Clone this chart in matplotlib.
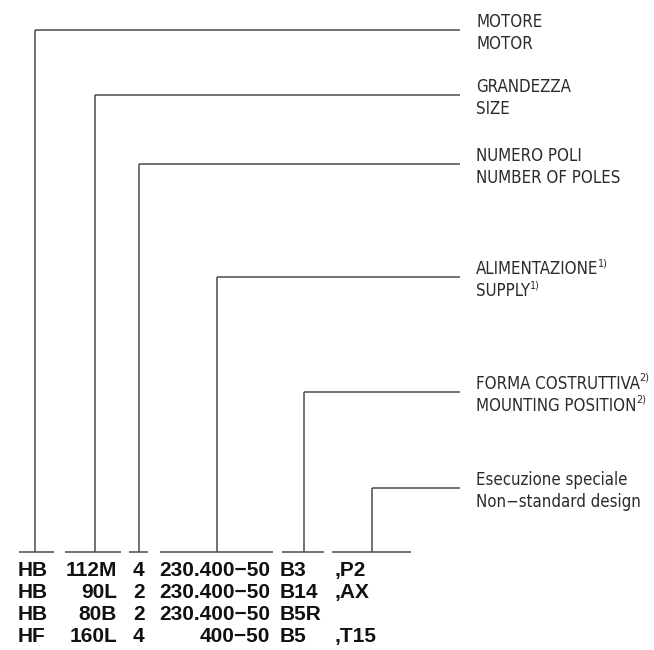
import matplotlib
matplotlib.use("Agg")
import matplotlib.pyplot as plt
from matplotlib import font_manager

# callout labels (italian / english) and superscript notes
labels_it = ["MOTORE", "GRANDEZZA", "NUMERO POLI", "ALIMENTAZIONE", "FORMA COSTRUTTIVA", "Esecuzione speciale"]
labels_en = ["MOTOR", "SIZE", "NUMBER OF POLES", "SUPPLY", "MOUNTING POSITION", "Non\u2212standard design"]
notes = ["", "", "", "1)", "2)", ""]

# code fields: one column per field
col_motor = ["HB", "HB", "HB", "HF"]
col_size = ["112M", "90L", "80B", "160L"]
col_poles = ["4", "2", "2", "4"]
col_supply = ["230.400\u221250", "230.400\u221250", "230.400\u221250", "400\u221250"]
col_mount = ["B3", "B14", "B5R", "B5"]
col_special = [",P2", ",AX", "", ",T15"]

# layout (pixel coords of the 654x650 sheet)
callout_x = [35, 95, 139, 217, 304, 372]
callout_y = [30, 95, 164, 277, 392, 488]
under_x0 = [19, 65, 129, 160, 282, 332]
under_x1 = [54, 121, 148, 273, 324, 411]
under_y = 552
line_end = 460
text_x = 476
row_base = [576, 598, 620, 642]

# look for a narrow sans font, else fall back to Roboto a bit smaller
narrow = None
for f in font_manager.fontManager.ttflist:
    if f.style == "normal" and f.weight in (400, "normal") and (
            "Narrow" in f.name or "Condensed" in f.name or f.stretch in ("condensed", "semi-condensed")):
        if "Mono" not in f.name and "Serif" not in f.name:
            narrow = f
            break
if narrow is not None:
    lab_kw = dict(family=[narrow.name, "DejaVu Sans"], stretch=narrow.stretch, fontsize=12.1)
else:
    lab_kw = dict(family=["Roboto", "DejaVu Sans"], fontsize=11.4)

fig = plt.figure(figsize=(6.54, 6.5), dpi=100)
ax = fig.add_axes([0, 0, 1, 1])
ax.set_xlim(0, 654)
ax.set_ylim(650, 0)
ax.axis("off")

lc = "#4a4a4a"
tc = "#2b2b2b"
for i in range(len(labels_it)):
    x, y = callout_x[i], callout_y[i]
    ax.plot([x, x], [under_y, y], color=lc, lw=1.1, solid_capstyle="butt")
    ax.plot([x, line_end], [y, y], color=lc, lw=1.1, solid_capstyle="butt")
    ax.plot([under_x0[i], under_x1[i]], [under_y, under_y], color=lc, lw=1.1, solid_capstyle="butt")
    t1 = ax.text(text_x, y - 3, labels_it[i], color=tc, va="baseline", ha="left", **lab_kw)
    t2 = ax.text(text_x, y + 19, labels_en[i], color=tc, va="baseline", ha="left", **lab_kw)
    if notes[i]:
        fig.canvas.draw()
        for t, yy in [(t1, y - 3), (t2, y + 19)]:
            bb = t.get_window_extent()
            xe = ax.transData.inverted().transform((bb.x1, bb.y0))[0]
            ax.text(xe - 0.5, yy - 8, notes[i], family=lab_kw["family"], fontsize=7,
                    color=tc, va="baseline", ha="left")

code_font = ["Liberation Sans", "DejaVu Sans"]
cols = [
    (col_motor, 18, "left"),
    (col_size, 117, "right"),
    (col_poles, 133, "left"),
    (col_supply, 270, "right"),
    (col_mount, 280, "left"),
    (col_special, 335, "left"),
]
for values, x, ha in cols:
    for j, v in enumerate(values):
        ax.text(x, row_base[j], v, family=code_font, fontsize=15, fontweight="bold",
                color="#111111", va="baseline", ha=ha)

fig.savefig("out.png", dpi=100, facecolor="white")
